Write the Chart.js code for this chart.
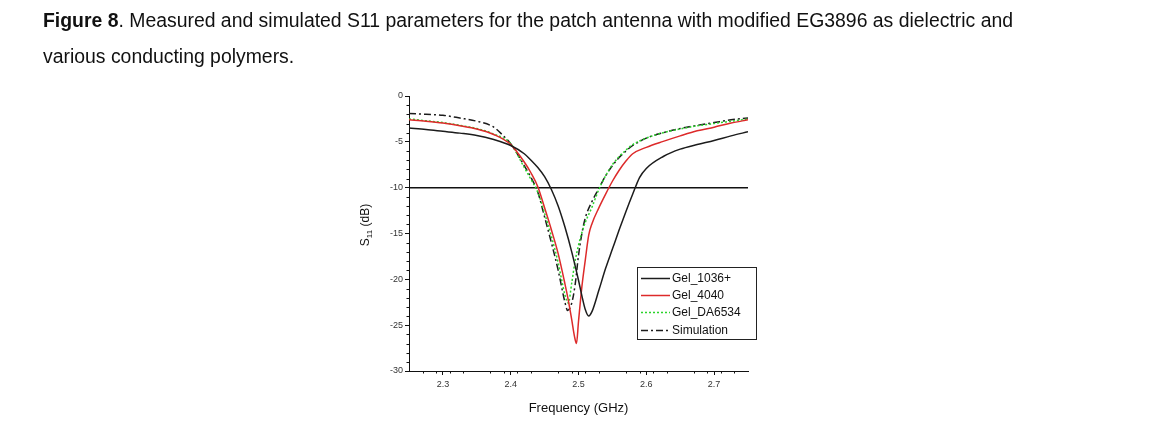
<!DOCTYPE html>
<html>
<head>
<meta charset="utf-8">
<script src="https://cdn.jsdelivr.net/npm/chart.js@4.4.0/dist/chart.umd.min.js"></script>
<style>
html, body { margin: 0; padding: 0; background: #fff; }
body { width: 1154px; height: 434px; position: relative; overflow: hidden; }
#chart { position: absolute; left: 0; top: 0; }
.cap { position: absolute; left: 43px; font-family: "Liberation Sans", Arial, sans-serif; font-size: 19.5px; line-height: 20px; color: #111; white-space: nowrap; transform-origin: 0 0; }
</style>
</head>
<body>
<canvas id="chart" width="1154" height="434"></canvas>
<div class="cap" id="cap1" style="top:10px"><b>Figure 8</b>. Measured and simulated S11 parameters for the patch antenna with modified EG3896 as dielectric and</div>
<div class="cap" id="cap2" style="top:46px">various conducting polymers.</div>
<script>
// values (frequency in GHz, S11 in dB)
const freqBlack = [2.25, 2.275, 2.30, 2.325, 2.35, 2.375, 2.40, 2.42, 2.43, 2.44, 2.45, 2.46, 2.47, 2.48, 2.49, 2.50, 2.505, 2.51, 2.515, 2.52, 2.53, 2.54, 2.55, 2.56, 2.57, 2.58, 2.59, 2.60, 2.625, 2.65, 2.675, 2.70, 2.725, 2.75];
const s11Black = [-3.5, -3.65, -3.85, -4.05, -4.3, -4.75, -5.4, -6.3, -7.0, -7.8, -8.8, -10.2, -12.0, -14.3, -17.0, -20.1, -21.8, -23.3, -24.0, -23.5, -21.2, -18.8, -16.7, -14.6, -12.6, -10.7, -8.9, -7.9, -6.6, -5.8, -5.3, -4.85, -4.35, -3.9];

const freqRed = [2.25, 2.275, 2.30, 2.325, 2.35, 2.375, 2.40, 2.42, 2.43, 2.44, 2.45, 2.46, 2.47, 2.48, 2.485, 2.49, 2.494, 2.497, 2.50, 2.505, 2.51, 2.515, 2.52, 2.53, 2.54, 2.55, 2.56, 2.57, 2.58, 2.60, 2.625, 2.65, 2.675, 2.70, 2.725, 2.75];
const s11Red = [-2.6, -2.75, -2.95, -3.25, -3.6, -4.2, -5.3, -7.2, -8.4, -9.9, -12.2, -14.6, -17.2, -20.5, -22.3, -24.4, -26.2, -27.0, -24.6, -20.8, -17.9, -15.2, -13.9, -12.2, -10.7, -9.3, -8.1, -7.1, -6.3, -5.6, -4.95, -4.35, -3.8, -3.4, -2.95, -2.6];

const freqGreen = [2.25, 2.275, 2.30, 2.325, 2.35, 2.375, 2.40, 2.42, 2.43, 2.44, 2.45, 2.46, 2.47, 2.475, 2.48, 2.485, 2.49, 2.495, 2.50, 2.505, 2.51, 2.52, 2.53, 2.54, 2.55, 2.56, 2.57, 2.58, 2.60, 2.625, 2.65, 2.675, 2.70, 2.725, 2.75];
const s11Green = [-2.5, -2.7, -2.9, -3.2, -3.55, -4.15, -5.2, -7.8, -9.1, -10.5, -12.8, -15.3, -18.2, -20.0, -21.7, -22.6, -20.4, -18.0, -16.3, -14.9, -13.8, -12.1, -10.2, -8.7, -7.5, -6.6, -5.9, -5.3, -4.6, -4.0, -3.6, -3.25, -3.0, -2.75, -2.5];

const freqSim = [2.25, 2.275, 2.30, 2.325, 2.35, 2.375, 2.39, 2.40, 2.42, 2.43, 2.44, 2.45, 2.46, 2.47, 2.475, 2.48, 2.484, 2.49, 2.495, 2.50, 2.505, 2.51, 2.52, 2.53, 2.54, 2.55, 2.56, 2.57, 2.58, 2.60, 2.625, 2.65, 2.675, 2.70, 2.725, 2.75];
const s11Sim = [-1.9, -2.0, -2.1, -2.4, -2.75, -3.4, -4.4, -5.2, -7.6, -8.9, -10.5, -13.2, -16.0, -19.0, -20.8, -22.5, -23.4, -22.6, -20.6, -17.4, -15.0, -13.3, -11.5, -10.1, -8.7, -7.6, -6.7, -6.0, -5.4, -4.6, -4.0, -3.55, -3.2, -2.9, -2.6, -2.4];

const refFreq = [2.25, 2.75];
const refLevel = [-10, -10];

const seriesNames = ['Gel_1036+', 'Gel_4040', 'Gel_DA6534', 'Simulation'];
const xTicks = [2.3, 2.4, 2.5, 2.6, 2.7];
const xTickLabels = ['2.3', '2.4', '2.5', '2.6', '2.7'];
const yTicks = [0, -5, -10, -15, -20, -25, -30];
const yTickLabels = ['0', '-5', '-10', '-15', '-20', '-25', '-30'];

const pts = (xs, ys) => xs.map((x, i) => ({ x: x, y: ys[i] }));

// minor ticks, y axis title with subscript, legend box
const extras = {
  id: 'extras',
  afterDraw(chart) {
    const ctx = chart.ctx, xs = chart.scales.x, ys = chart.scales.y, a = chart.chartArea;
    ctx.save();
    ctx.strokeStyle = '#111';
    ctx.lineWidth = 1;
    ctx.beginPath();
    for (let i = 1; i < 25; i++) {
      if (i % 5 === 0) continue;
      const px = Math.round(xs.getPixelForValue(2.25 + i * 0.02 - 0.01 + 0.01)) + 0.5;
      ctx.moveTo(px, a.bottom);
      ctx.lineTo(px, a.bottom + 2.5);
    }
    for (let v = -29; v < 0; v++) {
      if (v % 5 === 0) continue;
      const py = Math.round(ys.getPixelForValue(v)) + 0.5;
      ctx.moveTo(a.left - 2.5, py);
      ctx.lineTo(a.left, py);
    }
    ctx.stroke();

    // y title: S11 (dB)
    ctx.save();
    ctx.translate(365, 225);
    ctx.rotate(-Math.PI / 2);
    ctx.fillStyle = '#111';
    ctx.textBaseline = 'alphabetic';
    const big = '12px "Liberation Sans", Arial, sans-serif', small = '8px "Liberation Sans", Arial, sans-serif';
    ctx.font = big; const w1 = ctx.measureText('S').width, w3 = ctx.measureText(' (dB)').width;
    ctx.font = small; const w2 = ctx.measureText('11').width;
    let sx = -(w1 + w2 + w3) / 2;
    ctx.font = big; ctx.fillText('S', sx, 4); sx += w1;
    ctx.font = small; ctx.fillText('11', sx, 7); sx += w2;
    ctx.font = big; ctx.fillText(' (dB)', sx, 4);
    ctx.restore();

    // legend
    const bx = 637.5, by = 267.5, bw = 119, bh = 72;
    ctx.fillStyle = '#fff';
    ctx.fillRect(bx, by, bw, bh);
    ctx.strokeStyle = '#222';
    ctx.lineWidth = 1;
    ctx.setLineDash([]);
    ctx.strokeRect(bx, by, bw, bh);
    ctx.font = '12px "Liberation Sans", Arial, sans-serif';
    ctx.textBaseline = 'middle';
    const rows = [278.5, 295.5, 312.5, 330.5];
    chart.data.datasets.forEach((ds, i) => {
      if (ds.hideInLegend) return;
      const ry = rows[i];
      ctx.strokeStyle = ds.borderColor;
      ctx.lineWidth = ds.borderWidth;
      ctx.setLineDash(ds.borderDash || []);
      ctx.beginPath();
      ctx.moveTo(641, ry);
      ctx.lineTo(670, ry);
      ctx.stroke();
      ctx.setLineDash([]);
      ctx.fillStyle = '#111';
      ctx.fillText(ds.label, 672, ry);
    });
    ctx.restore();
  }
};

new Chart(document.getElementById('chart'), {
  type: 'line',
  data: {
    datasets: [
      { label: seriesNames[0], data: pts(freqBlack, s11Black), borderColor: '#1c1c1c', borderWidth: 1.5 },
      { label: seriesNames[1], data: pts(freqRed, s11Red), borderColor: '#dd2a2a', borderWidth: 1.5 },
      { label: seriesNames[2], data: pts(freqGreen, s11Green), borderColor: '#2bd42b', borderWidth: 1.5, borderDash: [2, 2] },
      { label: seriesNames[3], data: pts(freqSim, s11Sim), borderColor: '#1c1c1c', borderWidth: 1.5, borderDash: [7, 3, 2, 3] },
      { label: '-10 dB', data: pts(refFreq, refLevel), borderColor: '#111', borderWidth: 1.5, hideInLegend: true, cubicInterpolationMode: 'default', tension: 0 }
    ]
  },
  options: {
    responsive: false,
    animation: false,
    layout: { padding: { left: 340, top: 96, right: 406, bottom: 0 } },
    elements: { point: { radius: 0 }, line: { cubicInterpolationMode: 'monotone' } },
    plugins: { legend: { display: false }, tooltip: { enabled: false } },
    scales: {
      x: {
        type: 'linear', min: 2.25, max: 2.75,
        afterBuildTicks: s => { s.ticks = xTicks.map(v => ({ value: v })); },
        afterFit: s => { s.height = 63; },
        ticks: { callback: (v, i) => xTickLabels[i], font: { size: 9, family: '"Liberation Sans", Arial' }, color: '#333', padding: 4, maxRotation: 0, autoSkip: false },
        grid: { drawOnChartArea: false, tickLength: 4, color: '#111' },
        border: { color: '#111', width: 1 },
        title: { display: true, text: 'Frequency (GHz)', font: { size: 13, family: '"Liberation Sans", Arial' }, color: '#111', padding: { top: 0, bottom: 18 } }
      },
      y: {
        type: 'linear', min: -30, max: 0,
        afterBuildTicks: s => { s.ticks = yTicks.map(v => ({ value: v })); },
        afterFit: s => { s.width = 69; },
        ticks: { callback: (v, i) => yTickLabels[i], font: { size: 9, family: '"Liberation Sans", Arial' }, color: '#333', padding: 2, autoSkip: false },
        grid: { drawOnChartArea: false, tickLength: 4, color: '#111' },
        border: { color: '#111', width: 1 }
      }
    }
  },
  plugins: [extras]
});

// stretch caption lines to the width they have in the figure
const fit = () => {
  const c1 = document.getElementById('cap1'), c2 = document.getElementById('cap2');
  const k = 970 / c1.getBoundingClientRect().width;
  c1.style.transform = 'scaleX(' + k + ')';
  c2.style.transform = 'scaleX(' + k + ')';
};
fit();
</script>
</body>
</html>
